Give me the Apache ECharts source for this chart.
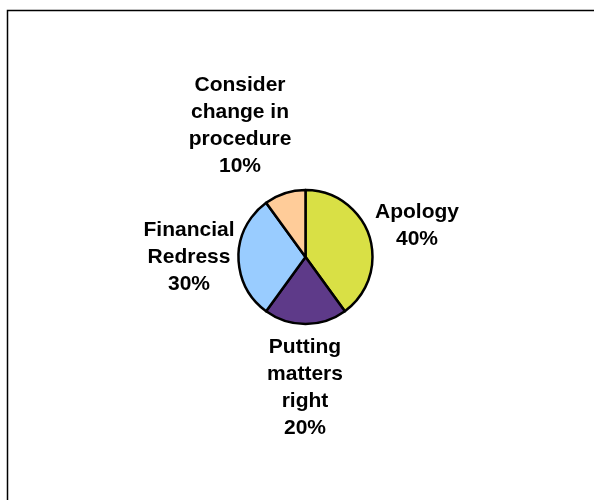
<!DOCTYPE html>
<html>
<head>
<meta charset="utf-8">
<script src="https://cdn.jsdelivr.net/npm/echarts@6/dist/echarts.min.js"></script>
<style>
  html, body { margin: 0; padding: 0; background: #ffffff; }
  #chart { width: 594px; height: 500px; }
</style>
</head>
<body>
<div id="chart"></div>
<script>
// Remedy outcomes, share of cases
const categories = ['Apology', 'Putting matters right', 'Financial Redress', 'Consider change in procedure'];
const values = [40, 20, 30, 10];
const labelText = ['Apology', 'Putting\nmatters\nright', 'Financial\nRedress', 'Consider\nchange in\nprocedure'];
const colors = ['#D9E045', '#5E3A89', '#99CCFF', '#FFCC99'];

// Label anchor points (block centres) for each slice
const labelAnchors = [
  [417, 226],
  [305, 388],
  [189, 257],
  [240, 126]
];

const chart = echarts.init(document.getElementById('chart'), null, { renderer: 'canvas' });

chart.setOption({
  backgroundColor: '#ffffff',
  animation: false,
  graphic: [{
    type: 'rect',
    shape: { x: 7.5, y: 10.5, width: 620, height: 520 },
    style: { fill: 'none', stroke: '#000000', lineWidth: 1.5 },
    silent: true
  }],
  series: [{
    type: 'pie',
    center: [305.5, 257],
    radius: 67,
    startAngle: 90,
    clockwise: true,
    data: categories.map((name, i) => ({
      name: name,
      value: values[i],
      itemStyle: { color: colors[i] },
      label: { formatter: labelText[i] + '\n{d}%' }
    })),
    itemStyle: { borderColor: '#000000', borderWidth: 2.5 },
    label: {
      show: true,
      position: 'outside',
      fontFamily: '"Liberation Sans", Arial, sans-serif',
      fontWeight: 'bold',
      fontSize: 21,
      lineHeight: 27,
      color: '#000000'
    },
    labelLine: { show: false },
    labelLayout: function (params) {
      const p = labelAnchors[params.dataIndex];
      return { x: p[0], y: p[1], align: 'center', verticalAlign: 'middle' };
    },
    emphasis: { disabled: true }
  }]
});
</script>
</body>
</html>
